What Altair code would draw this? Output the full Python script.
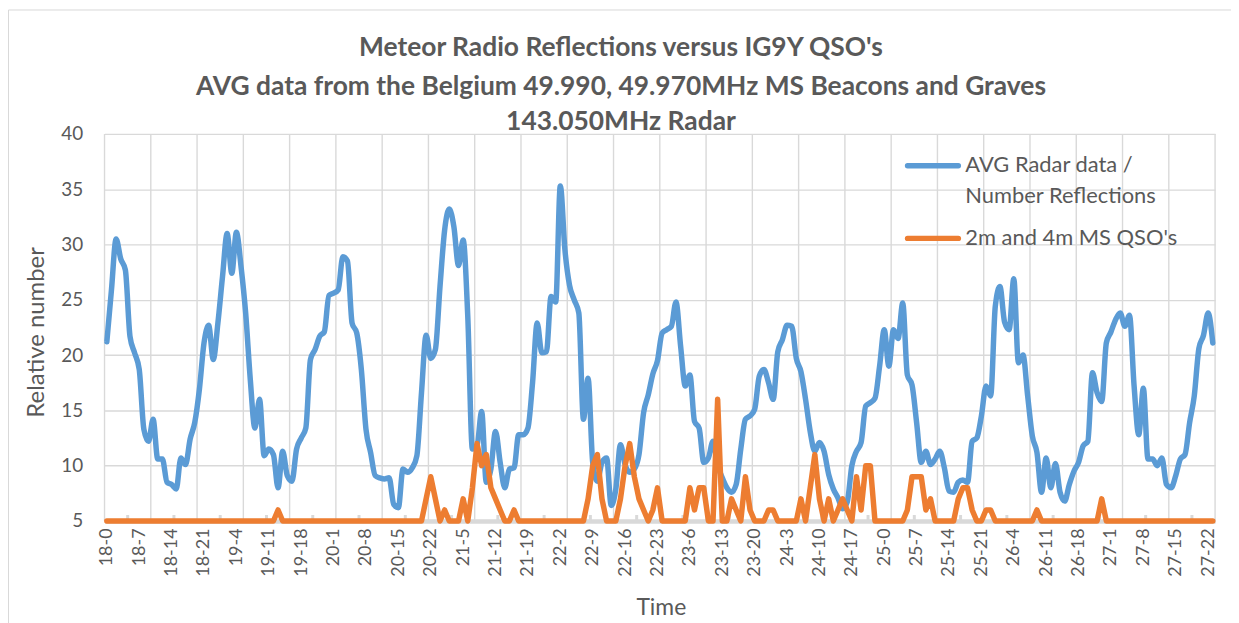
import altair as alt
import pandas as pd

# ---------------- data ----------------
X_LABELS = ["18-0", "18-7", "18-14", "18-21", "19-4", "19-11", "19-18", "20-1", "20-8",
            "20-15", "20-22", "21-5", "21-12", "21-19", "22-2", "22-9", "22-16", "22-23",
            "23-6", "23-13", "23-20", "24-3", "24-10", "24-17", "25-0", "25-7", "25-14",
            "25-21", "26-4", "26-11", "26-18", "27-1", "27-8", "27-15", "27-22"]

# hourly values 18-0 ... 27-23 (240 hours)
RADAR = [
    21.2, 25.9, 30.5, 28.7, 27.7, 21.7, 20.2, 18.7, 13.3, 12.2,
    14.2, 10.6, 10.6, 8.5, 8.3, 7.9, 10.7, 10.1, 12.4, 13.9,
    16.9, 21.1, 22.7, 19.6, 22.9, 27.1, 31.0, 27.4, 31.1, 28.0,
    23.8, 17.8, 13.4, 16.0, 10.9, 11.5, 11.0, 8.0, 11.3, 9.1,
    8.6, 11.5, 12.5, 13.4, 19.6, 20.5, 21.7, 22.1, 25.4, 25.6,
    25.9, 28.9, 28.5, 22.9, 22.0, 18.7, 13.3, 11.2, 9.1, 8.9,
    8.8, 8.9, 6.5, 6.2, 9.7, 9.4, 9.8, 10.9, 16.6, 21.8,
    19.7, 20.5, 26.2, 31.3, 33.2, 31.6, 28.1, 30.4, 23.5, 11.5,
    11.8, 14.9, 8.5, 9.7, 13.1, 10.3, 8.0, 9.7, 9.8, 12.8,
    12.8, 13.4, 17.5, 22.9, 20.2, 20.3, 25.3, 24.8, 35.3, 29.5,
    26.3, 25.0, 23.8, 14.2, 17.9, 10.3, 8.6, 10.3, 10.7, 6.4,
    7.9, 11.9, 10.1, 9.4, 9.7, 11.0, 14.8, 16.4, 18.3, 19.5,
    22.0, 22.3, 22.6, 24.8, 20.8, 17.2, 18.2, 14.0, 13.4, 10.3,
    10.7, 12.2, 10.1, 8.9, 8.0, 7.6, 8.3, 11.5, 14.2, 14.5,
    15.1, 18.1, 18.7, 17.5, 16.0, 20.3, 21.4, 22.7, 22.6, 19.7,
    18.5, 16.0, 13.1, 11.3, 12.1, 11.3, 9.2, 7.9, 7.1, 6.1,
    6.7, 10.0, 11.3, 12.1, 15.4, 15.7, 16.1, 19.0, 22.3, 19.0,
    22.3, 21.5, 24.7, 18.2, 17.3, 13.9, 10.3, 11.3, 10.1, 10.6,
    11.3, 9.8, 7.7, 7.6, 8.5, 8.7, 8.5, 12.2, 12.5, 14.5,
    17.2, 16.3, 24.4, 26.2, 23.0, 22.3, 26.9, 19.3, 20.0, 16.3,
    12.7, 11.2, 7.6, 10.7, 8.0, 10.2, 7.6, 6.8, 8.3, 9.5,
    10.3, 11.8, 12.2, 18.4, 16.6, 15.8, 21.1, 22.1, 23.2, 23.8,
    22.6, 23.6, 17.2, 12.8, 17.0, 10.6, 10.6, 10.0, 10.7, 8.3,
    8.0, 9.1, 10.6, 11.0, 13.9, 16.3, 20.6, 21.8, 23.8, 21.1,
]

QSO = [
    5, 5, 5, 5, 5, 5, 5, 5, 5, 5,
    5, 5, 5, 5, 5, 5, 5, 5, 5, 5,
    5, 5, 5, 5, 5, 5, 5, 5, 5, 5,
    5, 5, 5, 5, 5, 5, 5, 6, 5, 5,
    5, 5, 5, 5, 5, 5, 5, 5, 5, 5,
    5, 5, 5, 5, 5, 5, 5, 5, 5, 5,
    5, 5, 5, 5, 5, 5, 5, 5, 5, 7,
    9, 7, 5, 6, 5, 5, 5, 7, 5, 8,
    12, 10, 11, 8, 7, 6, 5, 5, 6, 5,
    5, 5, 5, 5, 5, 5, 5, 5, 5, 5,
    5, 5, 5, 5, 7, 10, 11, 7, 5, 5,
    5, 7, 10, 12, 9, 7, 6, 5, 6, 8,
    5, 5, 5, 5, 5, 5, 8, 6, 8, 8,
    5, 5, 16, 5, 5, 7, 6, 5, 9, 6,
    5, 5, 5, 6, 6, 5, 5, 5, 5, 5,
    7, 5, 8, 11, 7, 5, 7, 5, 6, 7,
    6, 5, 9, 6, 10, 10, 5, 5, 5, 5,
    5, 5, 5, 6, 9, 9, 9, 6, 7, 5,
    5, 5, 5, 5, 7, 8, 8, 6, 5, 5,
    6, 6, 5, 5, 5, 5, 5, 5, 5, 5,
    5, 6, 5, 5, 5, 5, 5, 5, 5, 5,
    5, 5, 5, 5, 5, 7, 5, 5, 5, 5,
    5, 5, 5, 5, 5, 5, 5, 5, 5, 5,
    5, 5, 5, 5, 5, 5, 5, 5, 5, 5,
]

TITLE_LINES = ["Meteor Radio Reflections versus IG9Y QSO's",
               "AVG data from the Belgium 49.990, 49.970MHz MS Beacons and Graves",
               "143.050MHz Radar"]
LEGEND_RADAR = ["AVG Radar data /", "Number Reflections"]
LEGEND_QSO = "2m and 4m MS QSO's"
Y_TICKS = [5, 10, 15, 20, 25, 30, 35, 40]

# ---------------- style ----------------
W, H = 1116, 389
BLUE = "#5B9BD5"
ORANGE = "#ED7D31"
GRID = "#D9D9D9"
TXT = "#595959"
FONT = "Lato"
N = len(RADAR)

df = pd.DataFrame({"pos": [i + 0.5 for i in range(N)], "radar": RADAR, "qso": QSO})
grid_df = pd.DataFrame({"pos": list(range(0, N + 1, 10))})
minor_df = pd.DataFrame({"pos": list(range(5, N, 10))})
one = pd.DataFrame({"a": [0]})

xs = alt.Scale(domain=[0, N], nice=False, zero=False)
ys = alt.Scale(domain=[5, 40], nice=False, zero=False)

label_js = "[" + ",".join("'" + s + "'" for s in X_LABELS) + "]"
x_axis = alt.Axis(
    values=[i * 7 + 0.5 for i in range(len(X_LABELS))],
    labelExpr=label_js + "[floor(datum.value / 7)]",
    labelAngle=-90, labelFont=FONT, labelFontSize=18, labelColor=TXT,
    labelPadding=7, labelFlush=False, labelOverlap=False,
    ticks=False, grid=False,
    domain=True, domainColor=GRID, domainWidth=4.5,
    title="Time", titleFont=FONT, titleFontSize=23, titleFontWeight="normal",
    titleColor=TXT, titleX=559, titleY=87, titleBaseline="middle",
)
y_axis = alt.Axis(
    values=Y_TICKS, labelFont=FONT, labelFontSize=19, labelColor=TXT,
    labelPadding=22, ticks=False, domain=False,
    grid=True, gridColor=GRID, gridWidth=1.4,
    title="Relative number", titleFont=FONT, titleFontSize=24,
    titleFontWeight="normal", titleColor=TXT, titleX=-68, titleY=199,
    titleBaseline="middle",
)

X = alt.X("pos:Q", scale=xs, axis=x_axis)

frame = alt.Chart(one).mark_rect(fill=None, stroke=GRID, strokeWidth=1).encode(
    x=alt.value(-96.5), x2=alt.value(W + 30), y=alt.value(-124.5), y2=alt.value(H + 120)
)

vgrid = alt.Chart(grid_df).mark_rule(color=GRID, strokeWidth=1.4).encode(
    x=X, y=alt.value(0), y2=alt.value(H)
)

minor = alt.Chart(minor_df).mark_rule(color=GRID, strokeWidth=3).encode(
    x=X, y=alt.value(H - 6), y2=alt.value(H)
)

radar_line = alt.Chart(df).mark_line(
    color=BLUE, strokeWidth=5.5, interpolate="monotone", strokeCap="round", strokeJoin="round"
).encode(
    x=X,
    y=alt.Y("radar:Q", scale=ys, axis=y_axis),
)

qso_line = alt.Chart(df).mark_line(
    color=ORANGE, strokeWidth=5.5, strokeCap="round", strokeJoin="round"
).encode(
    x=X,
    y=alt.Y("qso:Q", scale=ys, axis=y_axis),
)

# legend (inside plot, top right)
leg_blue = alt.Chart(one).mark_rule(color=BLUE, strokeWidth=5.5, strokeCap="round").encode(
    x=alt.value(807), x2=alt.value(858), y=alt.value(32)
)
leg_orange = alt.Chart(one).mark_rule(color=ORANGE, strokeWidth=5.5, strokeCap="round").encode(
    x=alt.value(807), x2=alt.value(858), y=alt.value(105)
)
leg_txt_style = dict(align="left", baseline="middle", font=FONT, fontSize=22, color=TXT)
leg_t1 = alt.Chart(one).mark_text(text=LEGEND_RADAR[0], **leg_txt_style).encode(
    x=alt.value(865), y=alt.value(31))
leg_t2 = alt.Chart(one).mark_text(text=LEGEND_RADAR[1], **leg_txt_style).encode(
    x=alt.value(865), y=alt.value(62))
leg_t3 = alt.Chart(one).mark_text(text=LEGEND_QSO, **leg_txt_style).encode(
    x=alt.value(865), y=alt.value(105))

# title (three centred lines)
title_style = dict(align="center", baseline="middle", font=FONT, fontSize=26.5,
                   fontWeight="bold", color=TXT)
title_y = [-86, -47, -12]
titles = [
    alt.Chart(one).mark_text(text=t, **title_style).encode(x=alt.value(519), y=alt.value(yy))
    for t, yy in zip(TITLE_LINES, title_y)
]

chart = alt.layer(
    frame, vgrid, minor, radar_line, qso_line,
    leg_blue, leg_orange, leg_t1, leg_t2, leg_t3, *titles
).properties(
    width=W, height=H,
    autosize=alt.AutoSizeParams(type="none"),
    padding={"left": 97, "top": 125, "right": 16, "bottom": 101},
    background="white",
).configure_view(stroke=None)

chart.save("out.html", embed_options={"renderer": "svg", "actions": False})
